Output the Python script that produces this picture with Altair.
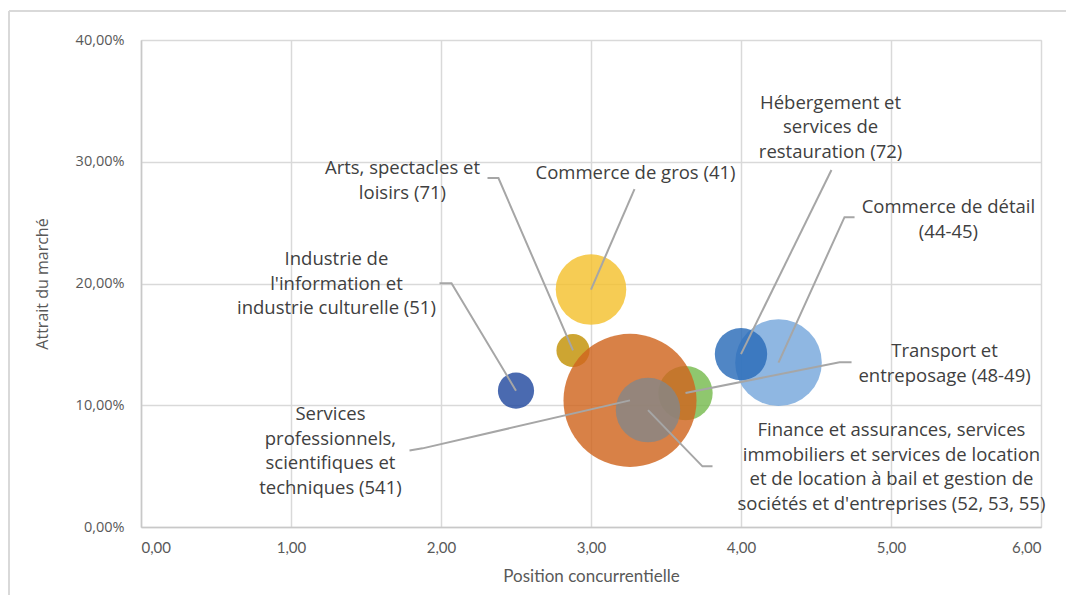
import altair as alt
import pandas as pd

# ---- data ----
cles = ["info", "arts", "gros", "transport", "services", "finance", "detail", "hebergement"]
libelles = [
    "Industrie de\nl'information et\nindustrie culturelle (51)",
    "Arts, spectacles et\nloisirs (71)",
    "Commerce de gros (41)",
    "Transport et\nentreposage (48-49)",
    "Services\nprofessionnels,\nscientifiques et\ntechniques (541)",
    "Finance et assurances, services\nimmobiliers et services de location\net de location à bail et gestion de\nsociétés et d'entreprises (52, 53, 55)",
    "Commerce de détail\n(44-45)",
    "Hébergement et\nservices de\nrestauration (72)",
]
position = [2.50, 2.88, 3.00, 3.63, 3.26, 3.38, 4.25, 4.00]
attrait = [0.112, 0.145, 0.195, 0.110, 0.104, 0.096, 0.135, 0.142]
taille = [7.4, 6.2, 28.1, 16.7, 100.0, 23.5, 42.4, 15.5]
couleurs = ["#22499F", "#C29105", "#F4C12E", "#76BB4E", "#D0651F", "#868686", "#76A7DC", "#2A6BB8"]

# label anchor positions (first line, data units)
etiq_x = [1.303, 1.743, 3.297, 5.357, 1.263, 5.003, 5.383, 4.597]
etiq_y = [0.2200, 0.2948, 0.2905, 0.1443, 0.0925, 0.0794, 0.2628, 0.3483]

# leader line start / elbow points (data units)
guide_x = [[1.990, 2.070], [2.310, 2.383], [3.290], [4.737, 4.657], [1.790, 1.877], [3.810, 3.743], [4.757, 4.690], [4.603]]
guide_y = [[0.2002, 0.2002], [0.2866, 0.2866], [0.2776], [0.1353, 0.1353], [0.0629, 0.0646], [0.0498, 0.0498], [0.2545, 0.2545], [0.2932]]

x_ticks = [0, 1, 2, 3, 4, 5, 6]
y_ticks = [0, 0.1, 0.2, 0.3, 0.4]

# ---- tables ----
bulles = pd.DataFrame({
    "cle": cles, "libelle": libelles, "position": position, "attrait": attrait,
    "taille": taille, "ordre": list(range(len(cles))),
    "lx": etiq_x, "ly": etiq_y,
})

rows = []
for i, c in enumerate(cles):
    k = 0
    for gx, gy in zip(guide_x[i], guide_y[i]):
        rows.append({"cle": c, "k": k, "x": gx, "y": gy})
        k += 1
    rows.append({"cle": c, "k": k, "x": position[i], "y": attrait[i]})
guides = pd.DataFrame(rows)

FONT = "Open Sans"
TXT = "#595959"

xs = alt.Scale(domain=[0, 6], nice=False, zero=False)
ys = alt.Scale(domain=[0, 0.4], nice=False)

xaxis = alt.Axis(values=x_ticks, title="Position concurrentielle",
                 labelExpr="replace(format(datum.value, '.2f'), '.', ',')",
                 grid=True, gridColor="#D9D9D9", gridWidth=1.5, ticks=False,
                 domainColor="#C8C8C8", domainWidth=1.5,
                 labelFont="Lato", labelFontSize=15, labelColor=TXT, labelPadding=13,
                 titleFont="Lato", titleFontSize=17, titleFontWeight="normal", titleColor=TXT,
                 titlePadding=13)
yaxis = alt.Axis(values=y_ticks, title="Attrait du marché",
                 labelExpr="replace(format(datum.value, '.2%'), '.', ',')",
                 grid=True, gridColor="#D9D9D9", gridWidth=1.5, ticks=False,
                 domainColor="#C8C8C8", domainWidth=1.5,
                 labelFont=FONT, labelFontSize=14.5, labelColor=TXT, labelPadding=17,
                 titleFont=FONT, titleFontSize=16, titleFontWeight="normal", titleColor=TXT,
                 titlePadding=25)

couleur = alt.Color("cle:N", scale=alt.Scale(domain=cles, range=couleurs), legend=None)

cercles = alt.Chart(bulles).mark_circle(opacity=0.82, stroke=None).encode(
    x=alt.X("position:Q", scale=xs, axis=xaxis),
    y=alt.Y("attrait:Q", scale=ys, axis=yaxis),
    size=alt.Size("taille:Q", scale=alt.Scale(domain=[0, 100], range=[0, 17700]), legend=None),
    color=couleur,
    order=alt.Order("ordre:Q"),
)

lignes = alt.Chart(guides).mark_line(color="#A6A6A6", strokeWidth=2).encode(
    x=alt.X("x:Q", scale=xs),
    y=alt.Y("y:Q", scale=ys),
    detail="cle:N",
    order="k:Q",
)

textes = alt.Chart(bulles).mark_text(
    font=FONT, fontSize=18.5, color="#404040", lineBreak="\n", lineHeight=24.5,
    align="center", baseline="middle"
).encode(
    x=alt.X("lx:Q", scale=xs),
    y=alt.Y("ly:Q", scale=ys),
    text="libelle:N",
)

cadre_haut = alt.Chart(bulles).mark_rule(color="#D9D9D9", strokeWidth=1.5).encode(
    x=alt.value(-132), x2=alt.value(940), y=alt.value(-29)
)
cadre_gauche = alt.Chart(bulles).mark_rule(color="#D9D9D9", strokeWidth=1.5).encode(
    x=alt.value(-132), y=alt.value(-29), y2=alt.value(620)
)

chart = alt.layer(cadre_haut, cadre_gauche, cercles, lignes, textes).properties(
    width=900, height=487,
    autosize=alt.AutoSizeParams(type="none"),
    padding={"left": 133, "top": 32, "right": 25, "bottom": 68},
).configure_view(stroke="#D9D9D9", strokeWidth=1.5).configure(background="white")

chart.save("out.html", embed_options={"renderer": "svg", "actions": False})
